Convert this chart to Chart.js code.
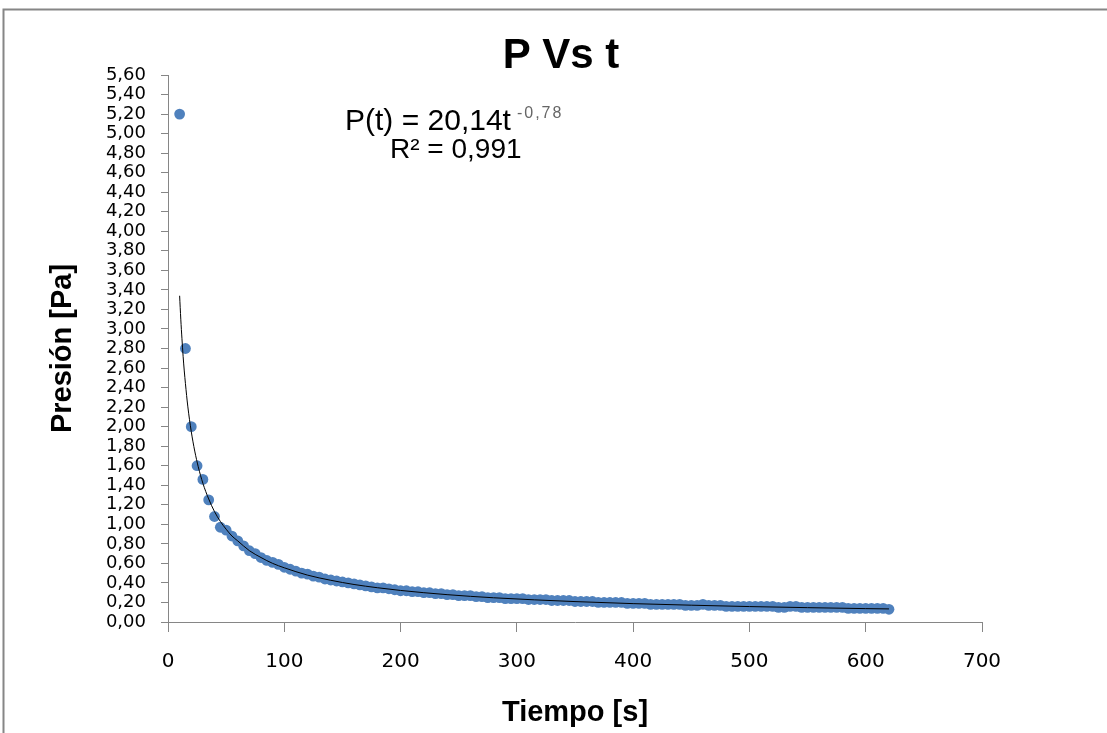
<!DOCTYPE html>
<html>
<head>
<meta charset="utf-8">
<title>P Vs t</title>
<script src="https://cdn.jsdelivr.net/npm/chart.js@4.4.1/dist/chart.umd.min.js"></script>
<style>
  html, body { margin: 0; padding: 0; background: #fff; }
  #wrap { width: 1107px; height: 733px; position: relative; }
</style>
</head>
<body>
<div id="wrap"><canvas id="chart"></canvas></div>
<script>
// medidas (s)
const tiempo = [
  10, 15, 20, 25, 30, 35, 40, 45, 50, 55,
  60, 65, 70, 75, 80, 85, 90, 95, 100, 105,
  110, 115, 120, 125, 130, 135, 140, 145, 150, 155,
  160, 165, 170, 175, 180, 185, 190, 195, 200, 205,
  210, 215, 220, 225, 230, 235, 240, 245, 250, 255,
  260, 265, 270, 275, 280, 285, 290, 295, 300, 305,
  310, 315, 320, 325, 330, 335, 340, 345, 350, 355,
  360, 365, 370, 375, 380, 385, 390, 395, 400, 405,
  410, 415, 420, 425, 430, 435, 440, 445, 450, 455,
  460, 465, 470, 475, 480, 485, 490, 495, 500, 505,
  510, 515, 520, 525, 530, 535, 540, 545, 550, 555,
  560, 565, 570, 575, 580, 585, 590, 595, 600, 605,
  610, 615, 620
]

// presión medida (Pa)
const presion = [
  5.20, 2.80, 2.00, 1.60, 1.46, 1.25, 1.08, 0.97, 0.94, 0.88,
  0.83, 0.78, 0.73, 0.70, 0.66, 0.63, 0.61, 0.59, 0.56, 0.54,
  0.52, 0.50, 0.49, 0.47, 0.46, 0.44, 0.43, 0.42, 0.41, 0.40,
  0.39, 0.38, 0.37, 0.36, 0.35, 0.35, 0.34, 0.33, 0.32, 0.32,
  0.31, 0.31, 0.30, 0.30, 0.29, 0.29, 0.28, 0.28, 0.27, 0.27,
  0.27, 0.26, 0.26, 0.25, 0.25, 0.25, 0.24, 0.24, 0.24, 0.24,
  0.23, 0.23, 0.23, 0.23, 0.22, 0.22, 0.22, 0.22, 0.21, 0.21,
  0.21, 0.21, 0.20, 0.20, 0.20, 0.20, 0.20, 0.19, 0.19, 0.19,
  0.19, 0.18, 0.18, 0.18, 0.18, 0.18, 0.18, 0.17, 0.17, 0.17,
  0.18, 0.17, 0.17, 0.17, 0.16, 0.16, 0.16, 0.16, 0.16, 0.16,
  0.16, 0.16, 0.16, 0.15, 0.15, 0.16, 0.16, 0.15, 0.15, 0.15,
  0.15, 0.15, 0.15, 0.15, 0.15, 0.14, 0.14, 0.14, 0.14, 0.14,
  0.14, 0.14, 0.13
]

// linea de tendencia potencial
const ajusteT = [10, 11, 12, 13, 14, 15, 17, 20, 23, 26, 30, 35, 40, 45, 50, 55, 60, 70, 80, 90, 100,
  120, 140, 160, 180, 200, 240, 280, 350, 400, 450, 500, 550, 600, 620]
const ajusteP = [3.34, 3.10, 2.90, 2.72, 2.57, 2.44, 2.21, 1.95, 1.75, 1.59, 1.42, 1.26, 1.13, 1.03, 0.95, 0.88, 0.83, 0.73, 0.66, 0.60, 0.555,
  0.48, 0.427, 0.384, 0.351, 0.323, 0.280, 0.248, 0.209, 0.188, 0.172, 0.158, 0.147, 0.137, 0.134]

const ecuacion = "P(t) = 20,14t"
const exponente = "-0,78"
const r2 = "R² = 0,991"

const xMax = 700
const xStep = 100
const yMax = 5.6
const yStep = 0.2

const gris = "#868686"
const azul = "#4F81BD"

const marco = {
  id: "marco",
  beforeDraw(chart) {
    const ctx = chart.ctx
    ctx.save()
    ctx.strokeStyle = gris
    ctx.lineWidth = 2
    ctx.beginPath()
    ctx.moveTo(3.5, chart.height)
    ctx.lineTo(3.5, 9.5)
    ctx.lineTo(chart.width, 9.5)
    ctx.stroke()
    ctx.restore()
  },
  afterDraw(chart) {
    const ctx = chart.ctx
    ctx.save()
    ctx.fillStyle = "#000"
    ctx.textBaseline = "alphabetic"
    ctx.textAlign = "center"
    ctx.font = "bold 42px 'Liberation Sans', Arial, sans-serif"
    ctx.fillText("P Vs t", 561, 68)

    ctx.textAlign = "left"
    ctx.font = "30px 'Liberation Sans', Arial, sans-serif"
    ctx.fillText(ecuacion, 345, 130)
    const fin = 345 + ctx.measureText(ecuacion).width
    ctx.font = "16px 'Liberation Sans', Arial, sans-serif"
    ctx.fillStyle = "#666"
    if ("letterSpacing" in ctx) ctx.letterSpacing = "2px"
    ctx.fillText(exponente, fin + 6, 118)
    if ("letterSpacing" in ctx) ctx.letterSpacing = "0px"
    ctx.fillStyle = "#000"
    ctx.font = "28px 'Liberation Sans', Arial, sans-serif"
    ctx.fillText(r2, 390, 158)
    ctx.restore()
  }
}

const puntos = tiempo.map((t, i) => ({ x: t, y: presion[i] }))
const tendencia = ajusteT.map((t, i) => ({ x: t, y: ajusteP[i] }))

new Chart(document.getElementById("chart"), {
  type: "scatter",
  data: {
    datasets: [
      {
        label: "Tendencia",
        data: tendencia,
        showLine: true,
        borderColor: "#000",
        borderWidth: 1,
        pointRadius: 0,
        cubicInterpolationMode: "monotone",
        fill: false
      },
      {
        label: "P",
        data: puntos,
        backgroundColor: azul,
        borderColor: azul,
        borderWidth: 0,
        pointRadius: 5.4
      }
    ]
  },
  options: {
    responsive: true,
    maintainAspectRatio: false,
    animation: false,
    layout: { padding: { top: 75, right: 125, left: 0, bottom: 0 } },
    plugins: {
      legend: { display: false },
      title: { display: false },
      tooltip: { enabled: false }
    },
    scales: {
      x: {
        type: "linear",
        min: 0,
        max: xMax,
        afterFit: (s) => { s.height = 111 },
        border: { display: true, color: gris, width: 1 },
        grid: { drawOnChartArea: false, drawTicks: true, tickLength: 10, color: gris },
        ticks: {
          stepSize: xStep,
          padding: 18,
          color: "#000",
          font: { family: "'DejaVu Sans', Verdana, sans-serif", size: 20 }
        },
        title: {
          display: true,
          text: "Tiempo [s]",
          color: "#000",
          font: { family: "'Liberation Sans', Arial, sans-serif", size: 29, weight: "bold" },
          padding: { top: 0, bottom: 3 }
        }
      },
      y: {
        type: "linear",
        min: 0,
        max: yMax,
        afterFit: (s) => { s.width = 168 },
        border: { display: true, color: gris, width: 1 },
        grid: { drawOnChartArea: false, drawTicks: true, tickLength: 7, color: gris },
        ticks: {
          stepSize: yStep,
          padding: 15,
          color: "#000",
          autoSkip: false,
          font: { family: "'DejaVu Sans', Verdana, sans-serif", size: 18 },
          callback: (v) => v.toFixed(2).replace(".", ",")
        },
        title: {
          display: true,
          text: "Presión [Pa]",
          color: "#000",
          font: { family: "'Liberation Sans', Arial, sans-serif", size: 29, weight: "bold" },
          padding: { top: 46, bottom: 0 }
        }
      }
    }
  },
  plugins: [marco]
})
</script>
</body>
</html>
